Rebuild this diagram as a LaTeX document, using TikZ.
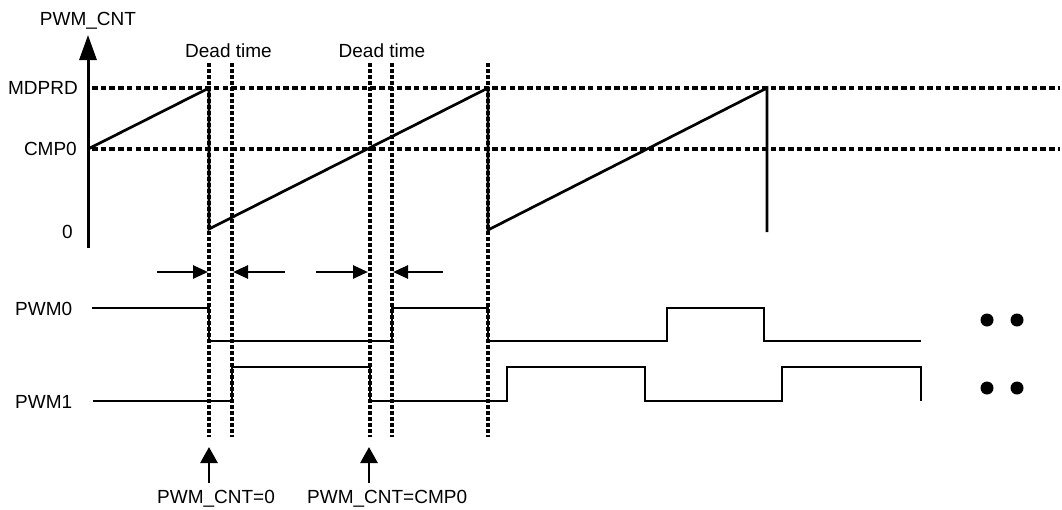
\documentclass[tikz,border=0pt]{standalone}
\usepackage{fontspec}
\setmainfont{Liberation Sans}
\usetikzlibrary{arrows.meta}
\begin{document}
\begin{tikzpicture}[x=1pt,y=-1pt,
  lbl/.style={inner sep=0pt, font=\fontsize{19}{22}\selectfont},
  wave/.style={line width=2.7pt, line join=miter},
  hguide/.style={line width=3.4pt, dash pattern=on 5.5pt off 3.2pt},
  vguide/.style={line width=3.4pt, dash pattern=on 3.6pt off 2.4pt},
  axisline/.style={line width=3pt, -{Triangle[length=25pt,width=17pt]}},
  dtarrow/.style={line width=2.6pt, -{Triangle[length=15pt,width=13pt]}},
  evarrow/.style={line width=2.8pt, -{Triangle[length=16pt,width=17pt]}},
  dotmark/.style={fill=black, draw=none}]
\useasboundingbox (0,0) rectangle (1062,509);

% labels
\node[lbl, anchor=base] (cnt) at (88,25) {PWM\_CNT};
\node[lbl, anchor=base] (dt1) at (228.5,57) {Dead time};
\node[lbl, anchor=base] (dt2) at (382,57) {Dead time};
\node[lbl, anchor=base east] (mdprd) at (78,94) {MDPRD};
\node[lbl, anchor=base east] (cmp) at (77,155) {CMP0};
\node[lbl, anchor=base east] (zero) at (73,238) {0};
\node[lbl, anchor=base west] (pwm0) at (15,315) {PWM0};
\node[lbl, anchor=base west] (pwm1) at (15,408) {PWM1};
\node[lbl, anchor=base west] (ev0) at (157,503) {PWM\_CNT=0};
\node[lbl, anchor=base west] (ev1) at (307,503) {PWM\_CNT=CMP0};

% axis
\coordinate (axb) at (88,248);
\coordinate (axt) at (88,35);
\draw[axisline] (axb) -- (axt);

% horizontal guides
\draw[hguide] (92,88) -- (1060,88);
\draw[hguide] (92,149) -- (1060,149);

% vertical guides
\foreach \x in {209,232,370,392,488}
  \draw[vguide] (\x,63) -- (\x,437);

% sawtooth
\draw[wave] (88,149) -- (209,88) -- (209,229) -- (488,88) -- (488,230) -- (767,88) -- (767,232);

% PWM0
\draw[wave] (92,308) -- (209,308) -- (209,341) -- (392,341) -- (392,308) -- (488,308)
  -- (488,341) -- (667,341) -- (667,308) -- (764,308) -- (764,341) -- (921,341);

% PWM1
\draw[wave] (93,401) -- (232,401) -- (232,367) -- (370,367) -- (370,401) -- (507,401)
  -- (507,367) -- (645,367) -- (645,401) -- (782,401) -- (782,367) -- (921,367) -- (921,401);

% dead-time arrows
\coordinate (a1s) at (157,272); \coordinate (a1e) at (208,272);
\coordinate (a2s) at (285,272); \coordinate (a2e) at (233,272);
\coordinate (a3s) at (316,272); \coordinate (a3e) at (368,272);
\coordinate (a4s) at (443,272); \coordinate (a4e) at (393,272);
\draw[dtarrow] (a1s) -- (a1e);
\draw[dtarrow] (a2s) -- (a2e);
\draw[dtarrow] (a3s) -- (a3e);
\draw[dtarrow] (a4s) -- (a4e);

% event arrows
\coordinate (e0s) at (209,483); \coordinate (e0t) at (209,447);
\coordinate (e1s) at (369,483); \coordinate (e1t) at (369,447);
\draw[evarrow] (e0s) -- (e0t);
\draw[evarrow] (e1s) -- (e1t);

% continuation dots
\foreach \x in {987,1017}
  \foreach \y in {320,388}
    \fill[dotmark] (\x,\y) circle (6.5pt);
\end{tikzpicture}
\end{document}
